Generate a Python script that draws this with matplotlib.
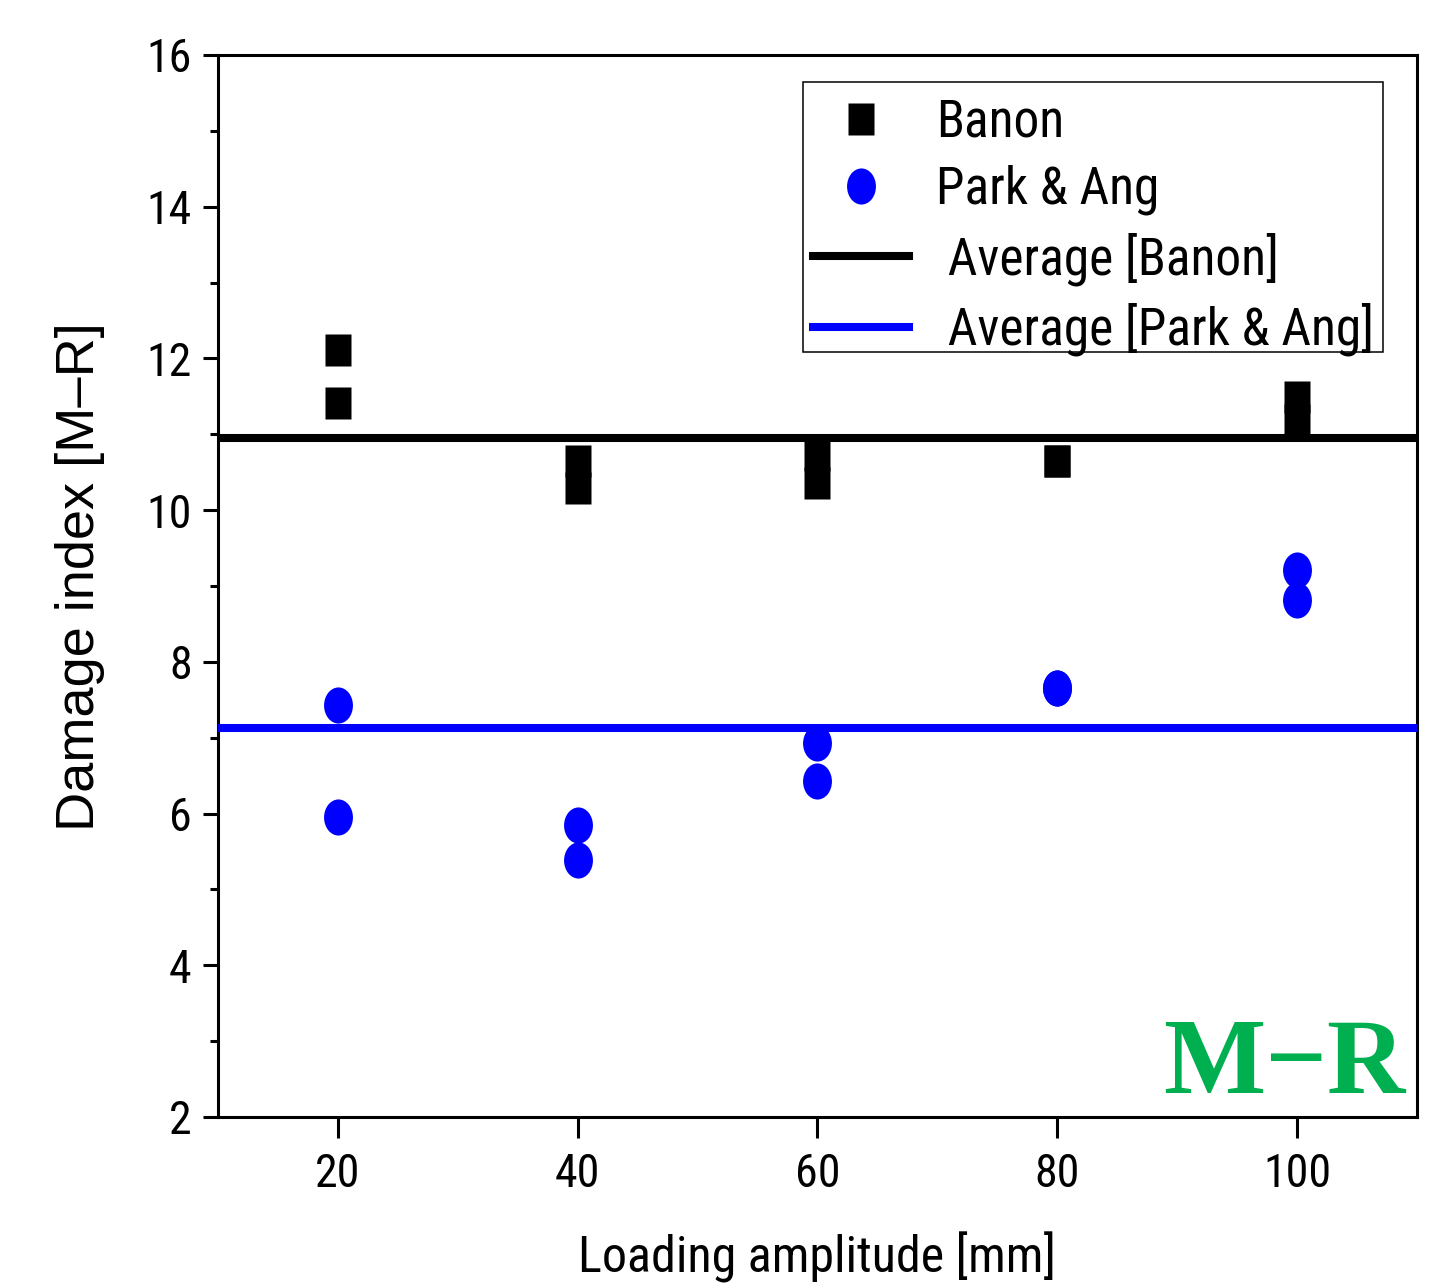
import numpy as np
import matplotlib.pyplot as plt
from matplotlib.markers import MarkerStyle
from matplotlib.transforms import Affine2D
from matplotlib.patches import Rectangle

# damage index per specimen at each loading amplitude (mm)
amp_banon = [20, 20, 40, 40, 60, 60, 80, 80, 100, 100]
di_banon = [12.11, 11.41, 10.65, 10.29, 10.73, 10.36, 10.65, 10.65, 11.49, 11.19]

amp_park = [20, 20, 40, 40, 60, 60, 80, 80, 100, 100]
di_park = [7.43, 5.96, 5.85, 5.39, 6.93, 6.43, 7.66, 7.66, 9.21, 8.82]

xticks = [20, 40, 60, 80, 100]
yticks = [2, 4, 6, 8, 10, 12, 14, 16]

avg_banon = np.mean(di_banon)
avg_park = np.mean(di_park)

plt.rcParams["font.family"] = ["Roboto Condensed", "Liberation Sans", "DejaVu Sans"]

fig = plt.figure(figsize=(14.39, 12.84), dpi=100)
ax = fig.add_axes([0.1515, 0.1301, 0.8332, 0.8271])

sq = MarkerStyle("s", transform=Affine2D().scale(0.81, 1.0))
dot = MarkerStyle("o", transform=Affine2D().scale(0.80, 1.0))

ax.plot(amp_banon, di_banon, ls="none", marker=sq, ms=23, color="black",
        mec="none", label="Banon", zorder=2)
ax.plot(amp_park, di_park, ls="none", marker=dot, ms=26, color="#0000ff",
        mec="none", label="Park & Ang", zorder=2)
ax.axhline(avg_banon, color="black", lw=5.8, label=" Average [Banon]", zorder=3)
ax.axhline(avg_park, color="#0000ff", lw=5.8, label=" Average [Park & Ang]", zorder=3)

ax.set_xlim(10, 110)
ax.set_ylim(2, 16)
ax.set_xticks(xticks)
ax.set_yticks(yticks)
ax.set_yticks(np.arange(3, 16, 2), minor=True)

for s in ax.spines.values():
    s.set_linewidth(2.2)
ax.tick_params(axis="x", which="major", direction="out", length=15, width=2.2,
               pad=10, labelsize=33)
ax.tick_params(axis="y", which="major", direction="out", length=11, width=2.2,
               pad=8, labelsize=33)
ax.tick_params(axis="y", which="minor", direction="out", length=5.5, width=2.2)

ax.set_xlabel("Loading amplitude [mm]", fontsize=36)
ax.xaxis.set_label_coords(0.5, -0.108)
ax.set_ylabel("Damage index [M\u2013R]", fontsize=39,
              family=["Liberation Sans", "DejaVu Sans"])
ax.yaxis.set_label_coords(-0.0945, 0.509)

ax.text(0.990, 0.0226, "M\u2212R", transform=ax.transAxes, ha="right",
        va="baseline", fontsize=78, fontweight="bold", color="#00b050",
        family=["Liberation Serif", "DejaVu Serif"])

# legend box drawn separately so the inner padding can be set freely
ax.add_patch(Rectangle((0.4879, 0.7203), 0.9716 - 0.4879, 0.97458 - 0.7203,
                       transform=ax.transAxes, fill=False, ec="black", lw=1.1,
                       zorder=5))
leg = ax.legend(loc="upper left", bbox_to_anchor=(0.4962, 0.9595), frameon=False,
                borderpad=0, borderaxespad=0, fontsize=37, handlelength=1.87,
                handletextpad=0.52, labelspacing=0.33)
leg.set_zorder(6)

fig.savefig("out.png", dpi=100)
